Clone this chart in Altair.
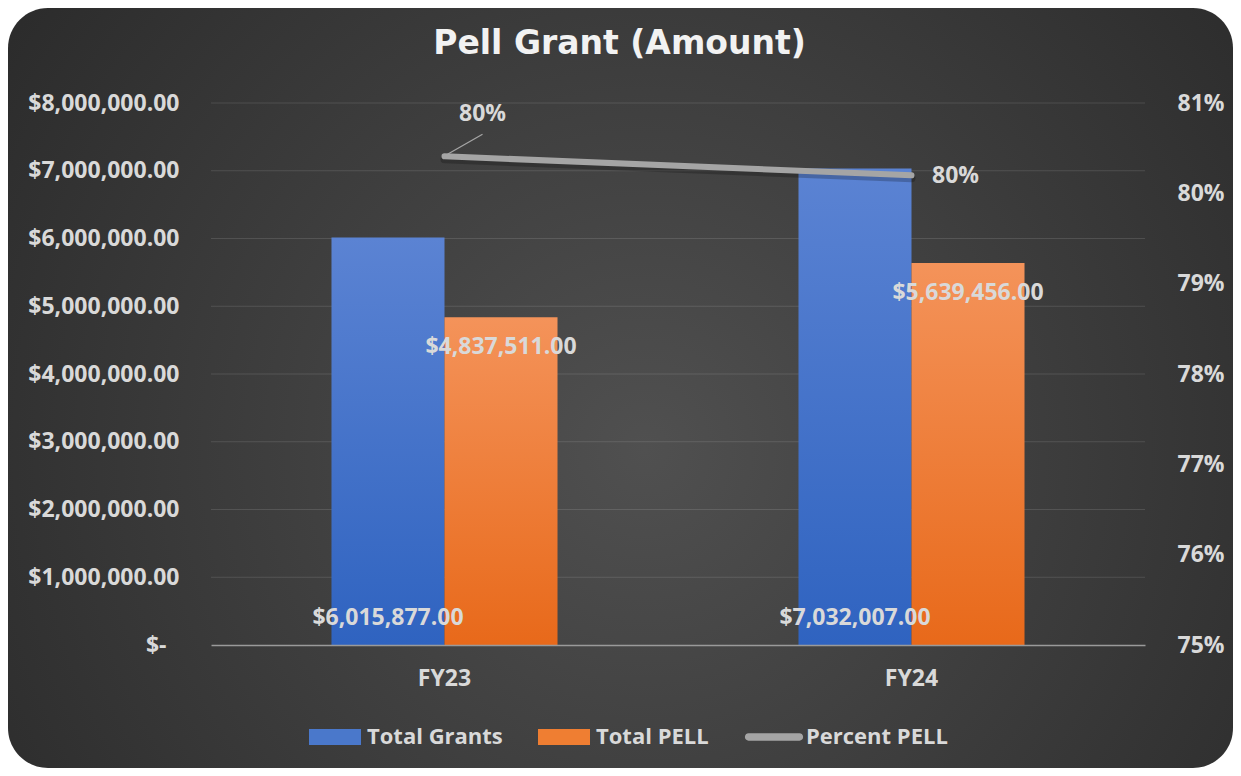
import altair as alt
import pandas as pd

# ---- data ----
years = ["FY23", "FY24"]
total_grants = [6015877.00, 7032007.00]
total_pell = [4837511.00, 5639456.00]
percent_pell = [0.8041, 0.8020]
bar_series = ["Total Grants", "Total PELL"]
legend_series = ["Total Grants", "Total PELL", "Percent PELL"]
amount_ticks = [0, 1000000, 2000000, 3000000, 4000000, 5000000, 6000000, 7000000, 8000000]
pct_ticks = [0.75, 0.76, 0.77, 0.78, 0.79, 0.80, 0.81]

bars_df = pd.DataFrame({
    "year": years + years,
    "series": [bar_series[0]] * len(years) + [bar_series[1]] * len(years),
    "amount": total_grants + total_pell,
})
line_df = pd.DataFrame({"year": years, "pct": percent_pell})
legend_df = pd.DataFrame({"series": legend_series})
grid_df = pd.DataFrame({"tick": amount_ticks[1:]})
bg_df = pd.DataFrame({"k": [0]})

# ---- layout / style ----
W, H = 934, 542
PAD_L, PAD_T, PAD_R, PAD_B = 203, 95, 88, 123
FONT = "Open Sans"
LBL = "#d9d9d9"
FS = 23

blue_grad = {"gradient": "linear", "x1": 0, "y1": 0, "x2": 0, "y2": 1,
             "stops": [{"offset": 0, "color": "#5b83d3"}, {"offset": 1, "color": "#2f63c0"}]}
orange_grad = {"gradient": "linear", "x1": 0, "y1": 0, "x2": 0, "y2": 1,
               "stops": [{"offset": 0, "color": "#f4935a"}, {"offset": 1, "color": "#e8691a"}]}
bg_grad = {"gradient": "radial", "x1": 0.52, "y1": 0.55, "r1": 0, "x2": 0.52, "y2": 0.55, "r2": 0.72,
           "stops": [{"offset": 0, "color": "#505050"}, {"offset": 1, "color": "#262626"}]}

rect_path = "M-1,-0.31H1V0.31H-1Z"
line_path = "M-0.98,-0.14H0.98A0.14,0.14 0 0 1 0.98,0.14H-0.98A0.14,0.14 0 0 1 -0.98,-0.14Z"

x_enc = alt.X("year:N", sort=years,
              scale=alt.Scale(paddingInner=0.516, paddingOuter=0.258),
              axis=alt.Axis(title=None, labelAngle=0, ticks=False, domain=True, zindex=1,
                            domainColor="#9a9a9a", domainWidth=1.5, labelPadding=22,
                            labelFont=FONT, labelFontSize=FS, labelFontWeight="bold",
                            labelColor=LBL))
xoff_enc = alt.XOffset("series:N", scale=alt.Scale(domain=bar_series, paddingInner=0, paddingOuter=0))
amount_scale = alt.Scale(domain=[0, 8000000])
pct_scale = alt.Scale(domain=[0.75, 0.81])
pct_axis = alt.Axis(title=None, orient="right", values=pct_ticks, format=".0%", grid=False,
                    ticks=False, domain=False, labelPadding=32, labelFont=FONT, zindex=1,
                    labelFontSize=FS, labelFontWeight="bold", labelColor=LBL)

bg = alt.Chart(bg_df).mark_rect(cornerRadius=40, fill=bg_grad).encode(
    x=alt.value(-PAD_L), x2=alt.value(W + PAD_R),
    y=alt.value(-PAD_T), y2=alt.value(H + PAD_B),
)

grid = alt.Chart(grid_df).mark_rule(color="#ffffff", opacity=0.12, strokeWidth=1.2).encode(
    y=alt.Y("tick:Q", scale=amount_scale),
)

bars = alt.Chart(bars_df).mark_bar().encode(
    x=x_enc,
    xOffset=xoff_enc,
    y=alt.Y("amount:Q", scale=amount_scale,
            axis=alt.Axis(title=None, orient="left", values=amount_ticks, ticks=False, domain=False,
                          grid=False, zindex=1,
                          labelPadding={"condition": {"test": "datum.value == 0", "value": 45}, "value": 32},
                          labelFont=FONT, labelFontSize=FS, labelFontWeight="bold",
                          labelColor=LBL,
                          labelExpr="datum.value == 0 ? '$-' : '$' + format(datum.value, ',.2f')")),
    fill=alt.condition(alt.datum.series == bar_series[0], alt.value(blue_grad), alt.value(orange_grad)),
)

text_style = dict(font=FONT, fontSize=FS, fontWeight="bold", color=LBL)

grant_labels = alt.Chart(bars_df).transform_filter(
    alt.datum.series == bar_series[0]
).mark_text(dy=-27, baseline="middle", **text_style).encode(
    x=alt.X("year:N", sort=years),
    xOffset=xoff_enc,
    y=alt.Y(datum=0, scale=amount_scale),
    text=alt.Text("amount:Q", format="$,.2f"),
)

pell_labels = alt.Chart(bars_df).transform_filter(
    alt.datum.series == bar_series[1]
).mark_text(dy=30, baseline="middle", **text_style).encode(
    x=alt.X("year:N", sort=years),
    xOffset=xoff_enc,
    y=alt.Y("amount:Q", scale=amount_scale),
    text=alt.Text("amount:Q", format="$,.2f"),
)

left = alt.layer(grid, bars, grant_labels, pell_labels)

line_shadow = alt.Chart(line_df).mark_line(
    color="#000000", opacity=0.22, strokeWidth=8, strokeCap="round", yOffset=3
).encode(
    x=alt.X("year:N", sort=years),
    y=alt.Y("pct:Q", scale=pct_scale, axis=pct_axis),
)

line = alt.Chart(line_df).mark_line(color="#a5a5a5", strokeWidth=6, strokeCap="round").encode(
    x=alt.X("year:N", sort=years),
    y=alt.Y("pct:Q", scale=pct_scale, axis=pct_axis),
)

leader = alt.Chart(line_df).transform_filter(alt.datum.year == years[0]).mark_rule(
    color="#a5a5a5", strokeWidth=1.2, xOffset=3, yOffset=-2, x2Offset=38, y2Offset=-22
).encode(
    x=alt.X("year:N", sort=years),
    x2=alt.X2("year"),
    y=alt.Y("pct:Q", scale=pct_scale),
    y2=alt.Y2("pct"),
)

pct_label_a = alt.Chart(line_df).transform_filter(alt.datum.year == years[0]).mark_text(
    dx=38, dy=-42, baseline="middle", **text_style
).encode(
    x=alt.X("year:N", sort=years),
    y=alt.Y("pct:Q", scale=pct_scale),
    text=alt.Text("pct:Q", format=".0%"),
)
pct_label_b = alt.Chart(line_df).transform_filter(alt.datum.year == years[1]).mark_text(
    dx=44, dy=1, baseline="middle", **text_style
).encode(
    x=alt.X("year:N", sort=years),
    y=alt.Y("pct:Q", scale=pct_scale),
    text=alt.Text("pct:Q", format=".0%"),
)

right = alt.layer(line_shadow, line, leader, pct_label_a, pct_label_b)

legend_cfg = alt.Legend(
    title=None, orient="none", legendX=98, legendY=608, direction="horizontal",
    labelFont=FONT, labelFontSize=22, labelFontWeight="bold", labelColor=LBL,
    symbolSize=2704, symbolOpacity=1, symbolStrokeWidth=0, labelOffset=6, columnPadding=35,
)
legend_layer = alt.Chart(legend_df).mark_point(opacity=0, filled=True).encode(
    color=alt.Color("series:N", sort=legend_series,
                    scale=alt.Scale(domain=legend_series, range=["#4a78cb", "#ef7e32", "#a5a5a5"]),
                    legend=legend_cfg),
    shape=alt.Shape("series:N", sort=legend_series,
                    scale=alt.Scale(domain=legend_series, range=[rect_path, rect_path, line_path]),
                    legend=legend_cfg),
)

chart = alt.layer(bg, left, right, legend_layer).resolve_scale(
    y="independent"
).properties(
    width=W, height=H,
    autosize=alt.AutoSizeParams(type="none"),
    padding={"left": PAD_L, "top": PAD_T, "right": PAD_R, "bottom": PAD_B},
    background="#ffffff",
    title=alt.TitleParams(
        text="Pell Grant (Amount)", font="DejaVu Sans", fontSize=33, fontWeight="bold",
        color="#f2f2f2", anchor="middle", frame="group", dx=-58.5, baseline="alphabetic", offset=-79,
    ),
).configure_view(stroke=None)

chart.save("out.html", embed_options={"renderer": "svg", "actions": False})
